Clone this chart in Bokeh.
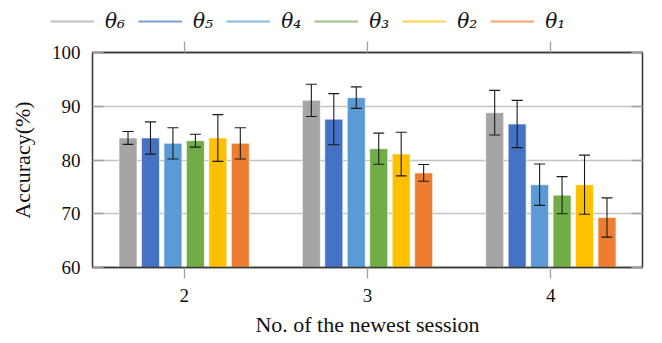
from bokeh.plotting import figure
from bokeh.models import (ColumnDataSource, Whisker, TeeHead, Legend, LegendItem,
                          LinearAxis, FixedTicker, Range1d)
from bokeh.transform import dodge
from bokeh.embed import file_html
from bokeh.resources import INLINE

sessions = [2, 3, 4]
series_labels = ["θ₆", "θ₅", "θ₄", "θ₃", "θ₂", "θ₁"]
colors = ["#A5A5A5", "#4472C4", "#5B9BD5", "#70AD47", "#FFC000", "#ED7D31"]

theta6 = [84.1, 91.1, 88.8]
theta5 = [84.1, 87.6, 86.7]
theta4 = [83.1, 91.6, 75.4]
theta3 = [83.6, 82.1, 73.45]
theta2 = [84.1, 81.1, 75.4]
theta1 = [83.1, 77.6, 69.3]

err6 = [1.2, 3.0, 4.15]
err5 = [3.0, 4.75, 4.4]
err4 = [2.9, 2.0, 3.85]
err3 = [1.2, 2.9, 3.45]
err2 = [4.35, 4.05, 5.5]
err1 = [2.9, 1.55, 3.65]

values = [theta6, theta5, theta4, theta3, theta2, theta1]
errors = [err6, err5, err4, err3, err2, err1]

yticks = [60, 70, 80, 90, 100]

FONT = "Liberation Serif"

# ---------- legend strip (separate root, frame spans whole strip) ----------
lg = figure(width=646, height=36, output_backend="svg", toolbar_location=None,
            x_range=Range1d(0, 1), y_range=Range1d(0, 1),
            min_border_left=0, min_border_right=0, min_border_top=0, min_border_bottom=0,
            x_axis_location=None, y_axis_location=None)
lg.outline_line_color = None
lg.xgrid.visible = False
lg.ygrid.visible = False

legend_items = []
for col, lab in zip(colors, series_labels):
    # key-only line, its points lie outside the strip's visible range
    r = lg.line(x=[-2, -1], y=[-2, -2], line_color=col, line_width=2, line_alpha=0.7)
    legend_items.append(LegendItem(label=lab, renderers=[r]))

legend = Legend(items=legend_items, orientation="horizontal", location=(50, 3),
                glyph_width=44, glyph_height=20, label_standoff=11, spacing=13,
                padding=0, margin=0, border_line_color=None,
                background_fill_alpha=0,
                label_text_font="DejaVu Serif", label_text_font_size="20px",
                label_text_font_style="italic", label_text_color="#111111")
lg.add_layout(legend, "center")

# ---------- main chart ----------
p = figure(width=646, height=307, output_backend="svg", toolbar_location=None,
           x_range=Range1d(1.5, 4.5), y_range=Range1d(60, 100),
           min_border_left=92, min_border_right=4, min_border_top=16,
           min_border_bottom=76, x_axis_location=None, y_axis_location=None)

p.outline_line_color = "#3a3a3a"
p.outline_line_width = 1.3
p.background_fill_color = "white"
p.border_fill_color = "white"

bar_w = 0.098
stride = 0.1225

for i, (vals, errs, col) in enumerate(zip(values, errors, colors)):
    off = (i - 2.5) * stride
    src = ColumnDataSource(dict(
        x=sessions, top=vals,
        upper=[v + e for v, e in zip(vals, errs)],
        lower=[v - e for v, e in zip(vals, errs)],
    ))
    p.vbar(x=dodge("x", off, range=p.x_range), top="top", bottom=0, width=bar_w,
           source=src, fill_color=col, line_color="white", line_alpha=0.6, line_width=1)
    w = Whisker(base=dodge("x", off, range=p.x_range), upper="upper", lower="lower",
                source=src, line_color="#1a1a1a", line_width=1.1, level="overlay",
                upper_head=TeeHead(size=11, line_color="#1a1a1a", line_width=1.1),
                lower_head=TeeHead(size=11, line_color="#1a1a1a", line_width=1.1))
    p.add_layout(w)

p.xgrid.visible = False
p.ygrid.ticker = FixedTicker(ticks=[70, 80, 90])
p.ygrid.grid_line_color = "#c4c4c4"
p.ygrid.grid_line_width = 1.3

def style_axis(ax, show_labels):
    ax.axis_line_color = "#3a3a3a"
    ax.axis_line_width = 1.3
    ax.major_tick_line_color = "#a0a0a0"
    ax.major_tick_line_width = 1.3
    ax.minor_tick_line_color = None
    ax.major_label_text_font = FONT
    ax.major_label_text_font_size = "19px"
    ax.major_label_text_color = "#111111" if show_labels else None
    ax.axis_label_text_font = FONT
    ax.axis_label_text_font_size = "22px"
    ax.axis_label_text_font_style = "normal"
    ax.axis_label_text_color = "#111111"

xb = LinearAxis(ticker=FixedTicker(ticks=sessions), axis_label="No. of the newest session")
style_axis(xb, True)
xb.major_tick_out = 11
xb.major_tick_in = 0
xb.major_label_standoff = 10
xb.axis_label_standoff = 7
p.add_layout(xb, "below")

xt = LinearAxis(ticker=FixedTicker(ticks=sessions))
style_axis(xt, False)
xt.major_tick_out = 11
xt.major_tick_in = 0
xt.major_label_text_font_size = "0px"
p.add_layout(xt, "above")

yl = LinearAxis(ticker=FixedTicker(ticks=yticks), axis_label="Accuracy(%)")
style_axis(yl, True)
yl.major_tick_in = 11
yl.major_tick_out = 0
yl.major_label_standoff = 12
yl.axis_label_standoff = 14
p.add_layout(yl, "left")

yr = LinearAxis(ticker=FixedTicker(ticks=yticks))
style_axis(yr, False)
yr.major_tick_in = 11
yr.major_tick_out = 0
yr.major_label_text_font_size = "0px"
p.add_layout(yr, "right")

open("out.html", "w").write(file_html([lg, p], INLINE))
